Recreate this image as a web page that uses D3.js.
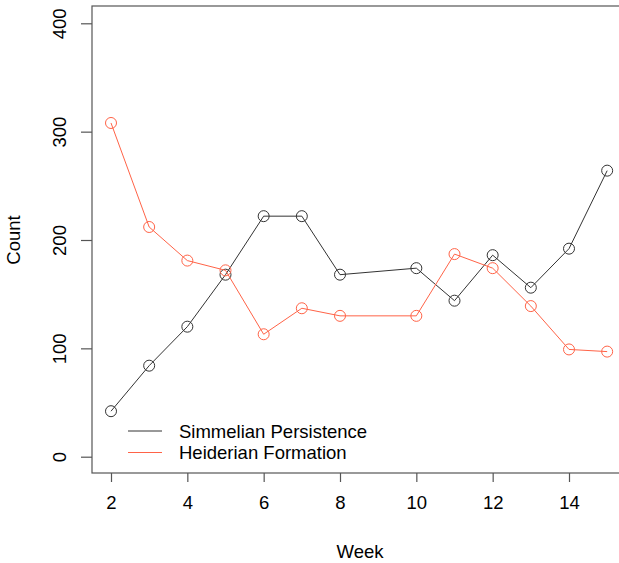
<!DOCTYPE html>
<html>
<head>
<meta charset="utf-8">
<script src="https://cdn.jsdelivr.net/npm/d3@7"></script>
<style>
  body { margin: 0; background: #fff; }
  text { font-family: "Liberation Sans", Arial, sans-serif; fill: #000; }
</style>
</head>
<body>
<div id="chart"></div>
<script>
// weeks (no week 9 in the data)
let weeks = [2, 3, 4, 5, 6, 7, 8, 10, 11, 12, 13, 14, 15];
let simmelian = [42, 84, 120, 168, 222, 222, 168, 174, 144, 186, 156, 192, 264];
let heiderian = [308, 212, 181, 172, 113, 137, 130, 130, 187, 174, 139, 99, 97];
let xTicks = [2, 4, 6, 8, 10, 12, 14];
let yTicks = [0, 100, 200, 300, 400];
let seriesNames = ["Simmelian Persistence", "Heiderian Formation"];
let seriesColors = ["#333333", "#FF6347"];

let width = 619, height = 563;
let box = {left: 92, top: 6, right: 628, bottom: 473};
let fontSize = 18.5;

let svg = d3.select("#chart").append("svg")
  .attr("width", width)
  .attr("height", height);

// week 2 -> 111px, week 14 -> 569px
let x = d3.scaleLinear().domain([2, 14]).range([111, 569]);
// 0 -> 456.7px, 400 -> 23.3px
let y = d3.scaleLinear().domain([0, 400]).range([456.7, 23.3]);

// plot frame
svg.append("rect")
  .attr("x", box.left)
  .attr("y", box.top)
  .attr("width", box.right - box.left)
  .attr("height", box.bottom - box.top)
  .attr("fill", "none")
  .attr("stroke", "#555")
  .attr("stroke-width", 1.2);

// x axis ticks
let xAxis = svg.append("g")
  .attr("transform", "translate(0," + box.bottom + ")")
  .call(d3.axisBottom(x).tickValues(xTicks).tickSize(9).tickPadding(14).tickSizeOuter(0));
xAxis.select(".domain").remove();
xAxis.selectAll("line").attr("stroke", "#555").attr("stroke-width", 1.2);
xAxis.selectAll("text").attr("font-size", fontSize).attr("font-family", "Liberation Sans, Arial, sans-serif");

// y axis ticks, labels rotated like R
let yAxis = svg.append("g")
  .attr("transform", "translate(" + box.left + ",0)")
  .call(d3.axisLeft(y).tickValues(yTicks).tickSize(11).tickSizeOuter(0));
yAxis.select(".domain").remove();
yAxis.selectAll("line").attr("stroke", "#555").attr("stroke-width", 1.2);
yAxis.selectAll("text")
  .attr("font-size", fontSize)
  .attr("font-family", "Liberation Sans, Arial, sans-serif")
  .attr("text-anchor", "middle")
  .attr("x", 0).attr("dy", 0)
  .attr("transform", "translate(-26,0) rotate(-90)");

// axis titles
svg.append("text")
  .attr("x", 360).attr("y", 558)
  .attr("text-anchor", "middle")
  .attr("font-size", fontSize)
  .text("Week");

svg.append("text")
  .attr("transform", "translate(20,240) rotate(-90)")
  .attr("text-anchor", "middle")
  .attr("font-size", fontSize)
  .text("Count");

let line = d3.line()
  .x(d => x(d.week))
  .y(d => y(d.value));

let allSeries = [simmelian, heiderian];
allSeries.forEach((vals, i) => {
  let pts = weeks.map((w, j) => ({week: w, value: vals[j]}));
  svg.append("path")
    .datum(pts)
    .attr("d", line)
    .attr("fill", "none")
    .attr("stroke", seriesColors[i])
    .attr("stroke-width", 1);
  svg.selectAll(".pt" + i)
    .data(pts)
    .enter().append("circle")
    .attr("cx", d => x(d.week))
    .attr("cy", d => y(d.value))
    .attr("r", 5.5)
    .attr("fill", "none")
    .attr("stroke", seriesColors[i])
    .attr("stroke-width", 1);
});

// legend
seriesNames.forEach((name, i) => {
  let ly = 431 + i * 21.5;
  svg.append("line")
    .attr("x1", 128).attr("x2", 162)
    .attr("y1", ly).attr("y2", ly)
    .attr("stroke", seriesColors[i])
    .attr("stroke-width", 1);
  svg.append("text")
    .attr("x", 179).attr("y", ly + 6.5)
    .attr("font-size", fontSize)
    .text(name);
});
</script>
</body>
</html>
